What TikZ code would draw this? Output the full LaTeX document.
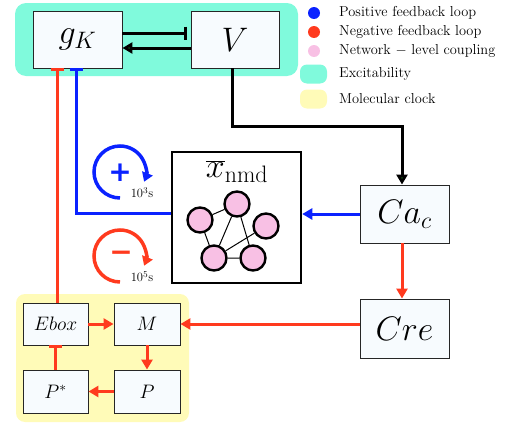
\RequirePackage{fix-cm}
\documentclass[tikz,border=0pt]{standalone}
\usepackage{fontspec}
\usetikzlibrary{arrows.meta,calc}
\newfontfamily\signfont{DejaVu Sans}
\definecolor{teal1}{HTML}{80FADC}
\definecolor{yell1}{HTML}{FFFBB8}
\definecolor{pink1}{HTML}{F8C0E4}
\definecolor{blue1}{HTML}{0A22FF}
\definecolor{red1}{HTML}{FF3A1E}
\definecolor{boxfill}{HTML}{F7FBFE}
\definecolor{tipgreen}{HTML}{0B3A0B}
\begin{document}
\begin{tikzpicture}[x=1pt,y=-1pt,
  box/.style={draw=black!85, line width=0.9pt, fill=boxfill, inner sep=0pt},
  bigtxt/.style={font=\fontsize{34}{40}\selectfont},
  smalltxt/.style={font=\fontsize{19.5}{24}\selectfont},
  legtxt/.style={font=\fontsize{14.4}{17}\selectfont, anchor=west, inner sep=0pt},
  arr/.style={line width=3pt, -{Triangle[length=10pt,width=11pt]}},
  teeend/.style={line width=3pt, -{Bar[width=13pt]}},
  netnode/.style={circle, draw=black, line width=2.4pt, fill=pink1, minimum size=25pt, inner sep=0pt},
  dot/.style={circle, minimum size=12pt, inner sep=0pt},
  legbox/.style={rounded corners=7pt, minimum width=27pt, minimum height=19pt, inner sep=0pt}
]
\useasboundingbox (0,0) rectangle (507,423);
% backgrounds
\fill[teal1, rounded corners=11pt] (15,3) rectangle (298,76);
\fill[yell1, rounded corners=9pt] (16,294) rectangle (189,422);
% main boxes
\node[box, bigtxt, minimum width=89pt, minimum height=57pt] (gK) at (77.5,39.5) {$g_K$};
\node[box, bigtxt, minimum width=88pt, minimum height=57pt] (V) at (235,39.5) {$V$};
\node[box, bigtxt, minimum width=89pt, minimum height=58pt] (Ca) at (404.5,214) {$Ca_c$};
\node[box, bigtxt, minimum width=89pt, minimum height=59pt] (Cre) at (404.5,328.5) {$Cre$};
\node[draw=black, line width=2.5pt, fill=white, minimum width=129pt, minimum height=131pt] (nmd) at (236.5,217.5) {};
\node[bigtxt, inner sep=0pt] (nmdlabel) at (237,172) {$\overline{x}_{\mathrm{nmd}}$};
% clock boxes
\node[box, smalltxt, minimum width=65pt, minimum height=42pt] (Ebox) at (55.5,324) {$Ebox$};
\node[box, smalltxt, minimum width=66pt, minimum height=42pt] (M) at (147,324) {$M$};
\node[box, smalltxt, minimum width=65pt, minimum height=43pt] (Ps) at (55.5,391.5) {$P^{*}$};
\node[box, smalltxt, minimum width=66pt, minimum height=43pt] (P) at (147,391.5) {$P$};
% network
\node[netnode] (c1) at (237,204) {};
\node[netnode] (c2) at (200,220) {};
\node[netnode] (c3) at (266,226) {};
\node[netnode] (c4) at (214,258) {};
\node[netnode] (c5) at (253,258) {};
\draw[line width=1pt] (c1) -- (c2) (c1) -- (c4) (c1) -- (c5) (c2) -- (c4) (c3) -- (c4) (c4) -- (c5);
% excitability connectors
\draw[teeend] ($(gK.east)+(0,-6.5)$) -- ($(V.west)+(0,-6.5)$) [shorten >=4pt];
\draw[line width=3pt, -{Triangle[length=10pt,width=11pt,fill=tipgreen]}] ($(V.west)+(0,8.5)$) -- ($(gK.east)+(0,8.5)$);
\draw[line width=3pt, -{Triangle[length=10pt,width=11pt,fill=tipgreen]}] ([xshift=-3pt]V.south) -- ++(0,58) -| ([xshift=-2.5pt]Ca.north);
% feedback connectors
\draw[teeend, red1] ([xshift=1.5pt]Ebox.north) -- ([xshift=1.5pt]Ebox.north |- gK.south);
\draw[teeend, blue1] ($(nmd.west)+(0,-4.5)$) -| ([xshift=-1.5pt]gK.south);
\draw[arr, blue1] (Ca.west) -- (Ca.west -| nmd.east);
\draw[arr, red1] ([xshift=-2.5pt]Ca.south) -- ([xshift=-2.5pt]Cre.north);
\draw[arr, red1] (M.east -| Cre.west) -- (M.east);
\draw[arr, red1] (Ebox) -- (M);
\draw[arr, red1] (M) -- (P);
\draw[arr, red1] (P) -- (Ps);
\draw[teeend, red1] (Ps) -- (Ebox);
% loop symbols
\draw[line width=3.5pt, blue1, -{Triangle[length=9pt,width=11pt]}] (120,172) ++(90:26) arc[start angle=90, end angle=382, radius=26];
\node[font=\signfont\bfseries\fontsize{28}{30}\selectfont, text=blue1, inner sep=0pt] (plus) at (120,173) {+};
\node[font=\fontsize{12.6}{14}\selectfont, inner sep=0pt] (t3) at (142,193) {10$^3$s};
\draw[line width=3.5pt, red1, -{Triangle[length=9pt,width=11pt]}] (120,256) ++(90:26) arc[start angle=90, end angle=382, radius=26];
\node[font=\signfont\bfseries\fontsize{28}{30}\selectfont, text=red1, inner sep=0pt] (minus) at (121,256) {−};
\node[font=\fontsize{12.6}{14}\selectfont, inner sep=0pt] (t5) at (142,277) {10$^5$s};
% legend
\node[dot, fill=blue1] (d1) at (314,13) {};
\node[dot, fill=red1] (d2) at (314,32) {};
\node[dot, fill=pink1] (d3) at (314,51) {};
\node[legbox, fill=teal1] (l4) at (313.5,74) {};
\node[legbox, fill=yell1] (l5) at (313.5,99) {};
\node[legtxt] (t1) at (339,13) {Positive feedback loop};
\node[legtxt] (t2) at (339,32) {Negative feedback loop};
\node[legtxt] (tt3) at (339,51) {Network $-$ level coupling};
\node[legtxt] (t4) at (339,74) {Excitability};
\node[legtxt] (t5l) at (339,99) {Molecular clock};
\end{tikzpicture}
\end{document}
